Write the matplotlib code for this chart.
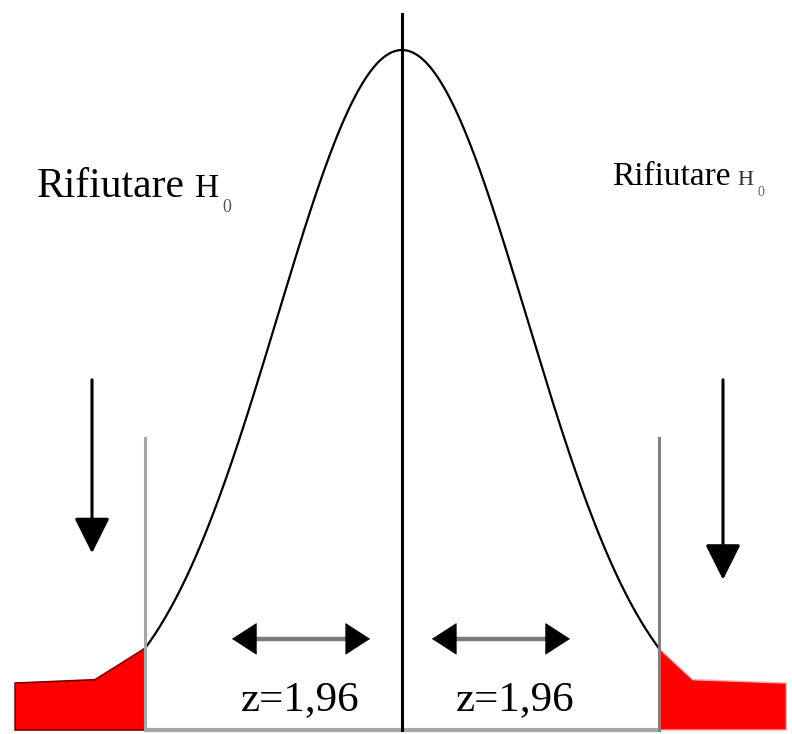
import matplotlib
matplotlib.use("Agg")
import matplotlib.pyplot as plt
import numpy as np
from matplotlib.patches import FancyArrowPatch

plt.rcParams['font.family'] = ['Liberation Serif', 'DejaVu Serif']

# valori (unità: sigma sull'asse x, densità relativa sull'asse y)
z_crit = 2.06
z_label = "z=1,96"
testo_rifiuto = "Rifiutare"

coda_sx_x = [-3.10, -2.46, -2.06]
coda_sx_top = [0.069, 0.074, 0.120]
coda_dx_x = [2.06, 2.33, 3.08]
coda_dx_top = [0.120, 0.074, 0.069]

# scala pixel: 124.8 px per unità, centro a x=402, base a y=730
px = 124.8
xmin, xmax = -402 / px, (792 - 402) / px
ymin, ymax = -4 / 680, 730 / 680

fig = plt.figure(figsize=(7.92, 7.34), dpi=100)
ax = fig.add_axes([0, 0, 1, 1])
ax.set_xlim(xmin, xmax)
ax.set_ylim(ymin, ymax)
ax.axis('off')

# curva normale tra i due valori critici
x = np.linspace(-z_crit, z_crit, 400)
y = np.exp(-x ** 2 / 2)
ax.plot(x, y, color='black', lw=1.6, zorder=3)

# code rosse
ax.fill(coda_sx_x + coda_sx_x[::-1], coda_sx_top + [0] * len(coda_sx_x),
        facecolor='#ff0000', edgecolor='#7a0000', lw=1.2, zorder=2)
ax.fill(coda_dx_x + coda_dx_x[::-1], coda_dx_top + [0] * len(coda_dx_x),
        facecolor='#ff0000', edgecolor='#ffaaaa', lw=1.0, zorder=2)

# linea base e linee critiche grigie
ax.plot([-z_crit, z_crit], [0, 0], color='#a6a6a6', lw=3, zorder=1, solid_capstyle='butt')
ax.plot([-z_crit, -z_crit], [0, 0.429], color='#a6a6a6', lw=2.2, zorder=4)
ax.plot([z_crit, z_crit], [0, 0.429], color='#7f7f7f', lw=2.2, zorder=4)

# linea centrale
ax.plot([0, 0], [0, 1.053], color='black', lw=2.2, zorder=4)

# frecce verso il basso
for xa, y0, y1 in [(-2.484, 0.515, 0.260), (2.572, 0.515, 0.221)]:
    ax.add_patch(FancyArrowPatch((xa, y0), (xa, y1),
                                 arrowstyle='-|>,head_length=22,head_width=11',
                                 mutation_scale=1, color='black', lw=2.2,
                                 shrinkA=0, shrinkB=0))

# frecce doppie con asta grigia
for xa, xb in [(-1.362, -0.256), (0.240, 1.346)]:
    ya = 0.134
    ax.plot([xa + 0.15, xb - 0.15], [ya, ya], color='#7a7a7a', lw=3.2, zorder=3)
    for xs, xe in [(xa + 0.19, xa), (xb - 0.19, xb)]:
        ax.add_patch(FancyArrowPatch((xs, ya), (xe, ya),
                                     arrowstyle='-|>,head_length=17,head_width=11',
                                     mutation_scale=1, color='black', lw=0.5,
                                     shrinkA=0, shrinkB=0, zorder=4))

# testi z
ax.text(-0.817, 0.029, z_label, fontsize=31, ha='center', va='baseline')
ax.text(0.905, 0.029, z_label, fontsize=31, ha='center', va='baseline')

# testi "Rifiutare H0"
ax.text(-2.925, 0.784, testo_rifiuto, fontsize=30, ha='left', va='baseline')
ax.text(-1.659, 0.784, "H", fontsize=24, ha='left', va='baseline')
ax.text(-1.44, 0.762, "0", fontsize=13, ha='left', va='baseline', color='#555555')

ax.text(1.683, 0.801, testo_rifiuto, fontsize=24, ha='left', va='baseline')
ax.text(2.684, 0.801, "H", fontsize=16, ha='left', va='baseline', color='#333333')
ax.text(2.85, 0.785, "0", fontsize=10, ha='left', va='baseline', color='#666666')

fig.savefig("out.png", dpi=100, facecolor='white')
